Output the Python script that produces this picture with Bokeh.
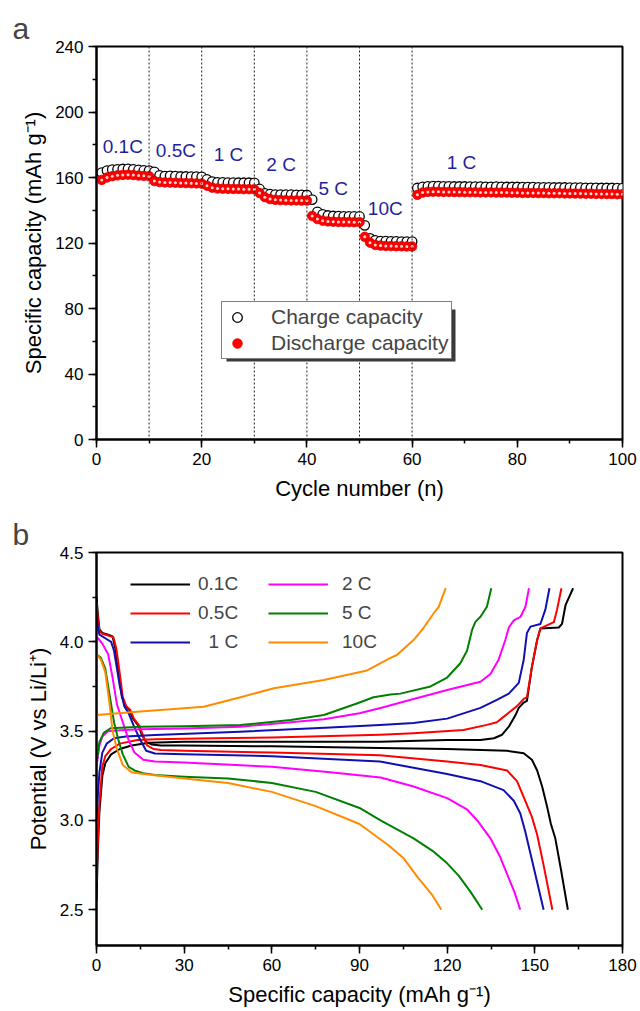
from bokeh.plotting import figure
from bokeh.layouts import column
from bokeh.models import (ColumnDataSource, Span, Legend, LegendItem, FixedTicker,
                          NumeralTickFormatter, BoxAnnotation)
from bokeh.embed import file_html
from bokeh.resources import INLINE

FONT = "Liberation Sans"

# ---------------- panel a data ----------------
cycles = list(range(1, 101))
charge_capacity = [
    163.0, 164.2, 164.8, 165.0, 165.2, 165.3, 165.0, 164.6, 164.3, 164.2,
    163.5, 161.3, 160.8, 161.0, 160.8, 160.6, 160.6, 160.5, 160.5, 160.4,
    158.8, 157.5, 157.0, 157.0, 156.9, 156.9, 156.8, 156.8, 156.8, 156.7,
    153.0, 150.3, 149.8, 149.6, 149.6, 149.5, 149.5, 149.4, 149.4, 149.3,
    146.5, 139.0, 137.5, 136.8, 136.5, 136.4, 136.3, 136.3, 136.2, 136.2,
    130.8, 122.8, 121.6, 121.2, 121.1, 121.0, 121.0, 120.9, 120.9, 120.8,
    153.6, 154.3, 154.6, 154.7, 154.7, 154.6, 154.6, 154.5, 154.5, 154.5,
    154.4, 154.4, 154.4, 154.3, 154.3, 154.4, 154.3, 154.2, 154.2, 154.2,
    154.1, 154.1, 154.1, 154.0, 154.0, 154.0, 153.9, 153.9, 153.9, 153.8,
    153.8, 153.8, 153.7, 153.7, 153.7, 153.6, 153.6, 153.6, 153.5, 153.5,
]
discharge_capacity = [
    158.5, 160.0, 160.8, 161.3, 161.6, 161.7, 161.5, 161.2, 161.0, 160.8,
    157.8, 157.2, 157.0, 156.9, 156.8, 156.7, 156.6, 156.5, 156.4, 156.3,
    155.0, 153.8, 153.3, 153.2, 153.1, 153.0, 153.0, 152.9, 152.9, 152.8,
    150.5, 148.0, 146.8, 146.4, 146.2, 146.1, 146.0, 146.0, 145.9, 145.9,
    136.5, 134.6, 133.6, 133.2, 133.0, 132.9, 132.8, 132.8, 132.7, 132.7,
    123.8, 120.2, 118.8, 118.4, 118.2, 118.1, 118.0, 118.0, 117.9, 117.9,
    149.4, 150.8, 151.2, 151.3, 151.3, 151.2, 151.2, 151.1, 151.1, 151.0,
    151.0, 151.0, 150.9, 150.9, 150.9, 150.8, 150.8, 150.8, 150.7, 150.7,
    150.6, 150.6, 150.6, 150.5, 150.5, 150.4, 150.4, 150.4, 150.3, 150.3,
    150.2, 150.2, 150.1, 150.1, 150.0, 150.0, 149.9, 149.9, 149.8, 149.8,
]
rate_boundaries = [10, 20, 30, 40, 50, 60]
rate_labels = ["0.1C", "0.5C", "1 C", "2 C", "5 C", "10C", "1 C"]
rate_label_x = [5.0, 15.1, 25.1, 35.1, 45.0, 54.9, 69.4]
rate_label_y = [179, 176.5, 174, 168, 153.5, 141.2, 169]

# ---------------- panel b data ----------------
cap_01C_chg = [0, 0.5, 1, 2, 3, 5, 8, 12, 18, 30, 60, 97, 120, 131.4, 136, 138.8, 141.1, 143.4, 144.5, 146.2, 147.3, 149.0, 150.8, 151.9, 158.2, 159.3, 160.5, 163.1]
v_01C_chg = [2.55, 2.85, 3.05, 3.25, 3.32, 3.37, 3.40, 3.42, 3.435, 3.44, 3.44, 3.44, 3.45, 3.45, 3.46, 3.48, 3.525, 3.59, 3.63, 3.66, 3.67, 3.86, 4.01, 4.075, 4.08, 4.10, 4.205, 4.30]
cap_01C_dis = [0, 0.5, 1, 2, 4, 5.5, 6.5, 7.6, 8.7, 9.9, 11.2, 12.5, 14.4, 15.5, 17, 19, 22, 30, 60, 97, 120, 140.5, 146.2, 149, 150.8, 152.5, 154.2, 155.5, 157, 159, 161.3]
v_01C_dis = [4.25, 4.15, 4.07, 4.05, 4.04, 4.03, 3.96, 3.83, 3.69, 3.64, 3.62, 3.57, 3.53, 3.48, 3.44, 3.425, 3.42, 3.42, 3.415, 3.405, 3.40, 3.39, 3.376, 3.34, 3.28, 3.19, 3.077, 2.98, 2.90, 2.72, 2.50]

cap_05C_chg = [0, 0.5, 1, 2, 3, 5, 8, 14, 20, 40, 60, 97, 108.5, 125.6, 133.6, 137, 139.3, 141.6, 143.9, 146.2, 147.3, 149.0, 150.8, 151.9, 156.5, 157.6, 159.1]
v_05C_chg = [2.65, 2.9, 3.1, 3.3, 3.36, 3.40, 3.43, 3.45, 3.455, 3.46, 3.465, 3.48, 3.488, 3.506, 3.535, 3.55, 3.58, 3.61, 3.64, 3.68, 3.69, 3.86, 4.01, 4.075, 4.11, 4.18, 4.30]
cap_05C_dis = [0, 0.5, 1, 2, 4, 5.8, 6.8, 7.9, 9, 10.2, 11.5, 12.8, 14.7, 15.8, 17.3, 19.5, 22, 30, 60, 97, 120, 131.4, 140.5, 143.9, 146.2, 149, 150.8, 153, 156]
v_05C_dis = [4.22, 4.12, 4.06, 4.045, 4.035, 4.025, 3.96, 3.83, 3.69, 3.64, 3.62, 3.57, 3.53, 3.48, 3.42, 3.40, 3.395, 3.39, 3.38, 3.365, 3.33, 3.31, 3.28, 3.22, 3.13, 3.02, 2.92, 2.75, 2.50]

cap_1C_chg = [0, 0.5, 1, 2, 3.5, 6, 10, 20, 49, 80, 97, 108.5, 120, 131.4, 137, 141.1, 144.5, 146.2, 147.3, 148.5, 151.9, 153.6, 155]
v_1C_chg = [3.0, 3.15, 3.27, 3.38, 3.43, 3.46, 3.47, 3.478, 3.497, 3.52, 3.535, 3.545, 3.57, 3.63, 3.675, 3.71, 3.77, 3.90, 4.05, 4.085, 4.10, 4.18, 4.30]
cap_1C_dis = [0, 0.5, 1, 3, 5, 6, 7, 8, 9.5, 11, 13, 15, 17, 20, 30, 60, 97, 120, 131.4, 139.3, 142.8, 145, 146.7, 149, 151, 153]
v_1C_dis = [4.14, 4.08, 4.04, 4.02, 4.0, 3.95, 3.85, 3.75, 3.64, 3.60, 3.52, 3.45, 3.39, 3.375, 3.37, 3.36, 3.33, 3.26, 3.22, 3.17, 3.11, 3.04, 2.94, 2.78, 2.64, 2.50]

cap_2C_chg = [0, 1, 2, 4, 8, 15, 30, 49.3, 66.4, 77.8, 90, 97.2, 108.5, 120, 131.4, 134.8, 137.6, 139.9, 141.1, 142.8, 145.1, 146.8, 148]
v_2C_chg = [3.3, 3.42, 3.47, 3.50, 3.505, 3.51, 3.515, 3.525, 3.55, 3.566, 3.60, 3.63, 3.68, 3.73, 3.776, 3.82, 3.90, 4.01, 4.08, 4.12, 4.14, 4.196, 4.30]
cap_2C_dis = [0, 2, 4, 5.5, 7, 9, 11, 13, 16, 20, 30, 60, 80, 97.2, 108.5, 120, 126.9, 130.3, 134.8, 138, 141, 143, 145]
v_2C_dis = [4.03, 3.99, 3.93, 3.80, 3.65, 3.55, 3.45, 3.38, 3.34, 3.33, 3.325, 3.30, 3.27, 3.24, 3.19, 3.125, 3.06, 3.00, 2.90, 2.80, 2.68, 2.60, 2.50]

cap_5C_chg = [0, 0.5, 1, 2.5, 4.8, 15, 30, 49.3, 66.4, 77.8, 89.1, 94.8, 100.6, 104, 114.3, 120, 124.5, 126.8, 128.5, 129.6, 131.4, 133.6, 135.1]
v_5C_chg = [3.32, 3.38, 3.44, 3.49, 3.516, 3.525, 3.528, 3.534, 3.562, 3.59, 3.655, 3.69, 3.705, 3.71, 3.75, 3.80, 3.88, 3.95, 4.065, 4.11, 4.14, 4.196, 4.30]
cap_5C_dis = [0, 1.5, 3, 4.5, 6, 7.5, 9, 11, 13, 16, 20, 30, 45, 60, 75, 90, 97.2, 108.5, 115, 120, 124, 128, 132]
v_5C_dis = [3.93, 3.91, 3.85, 3.70, 3.55, 3.45, 3.37, 3.30, 3.28, 3.265, 3.255, 3.245, 3.235, 3.21, 3.16, 3.07, 3.00, 2.90, 2.83, 2.76, 2.69, 2.60, 2.50]

cap_10C_chg = [0, 15, 36.7, 49.3, 60.7, 77.8, 92.6, 100.6, 102.8, 108.5, 112, 115.4, 117.1, 119.5]
v_10C_chg = [3.59, 3.61, 3.636, 3.69, 3.74, 3.786, 3.84, 3.91, 3.926, 4.01, 4.08, 4.16, 4.196, 4.30]
cap_10C_dis = [0, 1.5, 3, 4.5, 5.5, 7, 9, 12, 16, 30, 45, 60, 75, 90, 100, 105, 110, 115, 118]
v_10C_dis = [3.93, 3.90, 3.83, 3.65, 3.50, 3.40, 3.31, 3.27, 3.26, 3.235, 3.21, 3.16, 3.08, 2.98, 2.86, 2.79, 2.68, 2.58, 2.50]

rate_names = ["0.1C", "0.5C", "\u00a0\u00a01 C", "2 C", "5 C", "10C"]
rate_colors = ["#000000", "#ff0000", "#1010b0", "#ff00ff", "#008000", "#ff8c00"]
curves = [
    (cap_01C_chg, v_01C_chg, cap_01C_dis, v_01C_dis),
    (cap_05C_chg, v_05C_chg, cap_05C_dis, v_05C_dis),
    (cap_1C_chg, v_1C_chg, cap_1C_dis, v_1C_dis),
    (cap_2C_chg, v_2C_chg, cap_2C_dis, v_2C_dis),
    (cap_5C_chg, v_5C_chg, cap_5C_dis, v_5C_dis),
    (cap_10C_chg, v_10C_chg, cap_10C_dis, v_10C_dis),
]


def style(p, xt, xminor, yt, yminor):
    p.xgrid.visible = False
    p.ygrid.visible = False
    p.outline_line_color = "black"
    p.outline_line_width = 2
    p.xaxis.ticker = FixedTicker(ticks=xt, minor_ticks=xminor)
    p.yaxis.ticker = FixedTicker(ticks=yt, minor_ticks=yminor)
    for ax in (p.xaxis[0], p.yaxis[0]):
        ax.axis_line_width = 2
        ax.major_tick_line_width = 1.5
        ax.minor_tick_line_width = 1.5
        ax.major_tick_out = 8
        ax.major_tick_in = 0
        ax.minor_tick_out = 4
        ax.minor_tick_in = 0
        ax.major_label_text_font = FONT
        ax.major_label_text_font_size = "17px"
        ax.major_label_text_color = "black"
        ax.axis_label_text_font = FONT
        ax.axis_label_text_font_size = "22px"
        ax.axis_label_text_font_style = "normal"
        ax.axis_label_text_color = "black"
    p.xaxis.major_label_standoff = 5
    p.yaxis.major_label_standoff = 5
    p.title.text_font = FONT
    p.title.text_font_size = "30px"
    p.title.text_font_style = "normal"
    p.title.align = "left"
    p.title.offset = -84
    p.title.standoff = 4


# ---------------- panel a ----------------
p1 = figure(width=640, height=505, x_range=(0, 100), y_range=(0, 240),
            output_backend="svg", toolbar_location=None, title="a",
            min_border_left=96, min_border_right=18, min_border_top=46,
            min_border_bottom=66)
style(p1, list(range(0, 101, 20)), list(range(0, 101, 10)),
      list(range(0, 241, 40)), list(range(0, 241, 20)))
p1.xaxis.axis_label = "Cycle number (n)"
p1.yaxis.axis_label = "Specific capacity (mAh g\u207b\u00b9)"
p1.xaxis.axis_label_standoff = 8
p1.yaxis.axis_label_standoff = 6

for b in rate_boundaries:
    p1.add_layout(Span(location=b, dimension="height", line_color="#222222",
                       line_width=1, line_dash="2 2"))

src = ColumnDataSource(dict(c=cycles, q_c=charge_capacity, q_d=discharge_capacity))
r_ch = p1.scatter("c", "q_c", source=src, size=9.5, marker="circle",
                  fill_color="white", line_color="black", line_width=1.3)
r_dis = p1.scatter("c", "q_d", source=src, size=9.5, marker="circle",
                   fill_color="#ff0000", line_color="#e00000", line_width=0.8)
r_hi = p1.scatter("c", "q_d", source=src, size=3, marker="circle",
                  fill_color="#ffd6d6", line_color=None)

lab_src = ColumnDataSource(dict(x=rate_label_x, y=rate_label_y, t=rate_labels))
p1.text("x", "y", text="t", source=lab_src, text_align="center",
        text_baseline="middle", text_font_size="19px", text_color="#1f1f9e",
        text_font={"value": FONT})

# legend drop shadow (frame-relative screen pixels)
p1.add_layout(BoxAnnotation(left=130, right=359, bottom=78, top=130,
                            left_units="screen", right_units="screen",
                            bottom_units="screen", top_units="screen",
                            fill_color="#3a3a3a", fill_alpha=1, line_color=None,
                            level="annotation"))
leg1 = Legend(items=[LegendItem(label="Charge capacity", renderers=[r_ch]),
                     LegendItem(label="Discharge capacity", renderers=[r_dis])],
              location=(125, 80), border_line_color="black", border_line_width=1.5,
              padding=3, spacing=2, glyph_width=24, glyph_height=24,
              label_height=24, label_standoff=22, label_text_font=FONT,
              label_text_font_size="21px", background_fill_alpha=1, margin=0)
p1.add_layout(leg1)

# ---------------- panel b ----------------
p2 = figure(width=640, height=506, x_range=(0, 180), y_range=(2.3, 4.5),
            output_backend="svg", toolbar_location=None, title="b",
            min_border_left=96, min_border_right=18, min_border_top=47,
            min_border_bottom=66)
style(p2, list(range(0, 181, 30)), list(range(0, 181, 15)),
      [2.5, 3.0, 3.5, 4.0, 4.5], [2.5, 2.75, 3.0, 3.25, 3.5, 3.75, 4.0, 4.25, 4.5])
p2.yaxis.formatter = NumeralTickFormatter(format="0.0")
p2.xaxis.axis_label = "Specific capacity (mAh g\u207b\u00b9)"
p2.yaxis.axis_label = "Potential (V vs Li/Li\u207a)"
p2.xaxis.axis_label_standoff = 8
p2.yaxis.axis_label_standoff = 6

items = []
for name, color, (cc, vc, cd, vd) in zip(rate_names, rate_colors, curves):
    rc = p2.line(cc, vc, line_color=color, line_width=2, line_join="round")
    p2.line(cd, vd, line_color=color, line_width=2, line_join="round")
    items.append(LegendItem(label=name, renderers=[rc]))

for k, xloc in enumerate([34, 172]):
    lg = Legend(items=items[3 * k:3 * k + 3], location=(xloc, 292),
                border_line_color=None, background_fill_alpha=0, padding=0,
                spacing=7, glyph_width=60, glyph_height=22, label_height=22,
                label_standoff=8 if k == 0 else 14, label_text_font=FONT,
                label_text_font_size="19px", margin=0)
    p2.add_layout(lg)

layout = column(p1, p2)
open("out.html", "w").write(file_html(layout, INLINE))
